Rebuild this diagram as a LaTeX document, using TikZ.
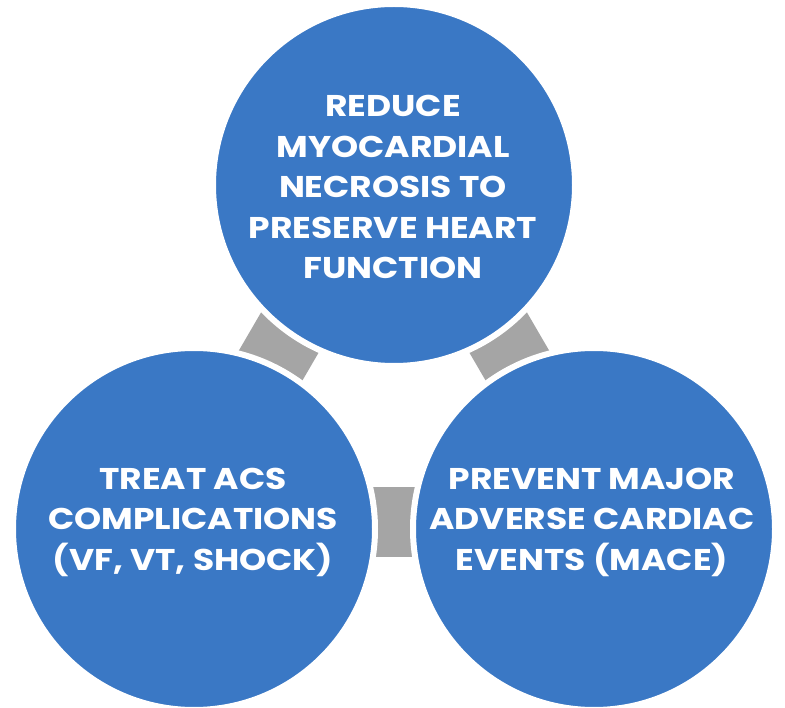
\documentclass[tikz,border=0pt]{standalone}
\usepackage{fontspec}
\setmainfont{Poppins}[FakeStretch=1.15]
\usetikzlibrary{backgrounds}
\definecolor{cblue}{HTML}{3A78C5}
\definecolor{cgray}{HTML}{A5A5A5}
\tikzset{
  blob/.style={circle, fill=cblue, draw=white, line width=6pt, minimum size=362pt, inner sep=0pt},
  link/.style={rectangle, fill=cgray, minimum width=80pt, minimum height=70pt, inner sep=0pt},
  lbl/.style={text=white, align=center, font=\fontsize{30}{40.5}\selectfont\bfseries}
}
\begin{document}
\begin{tikzpicture}[x=1pt,y=-1pt]
\useasboundingbox (0,0) rectangle (785,708);
\node[blob] (top) at (394,185) {};
\node[blob] (left) at (194,529) {};
\node[blob] (right) at (594,529) {};
\begin{scope}[on background layer]
\node[link, rotate=59.8] (lt) at (282,346) {};
\node[link, rotate=-59.8] (rt) at (506,346) {};
\node[link] (lr) at (395,522) {};
\end{scope}
\node[lbl] (ttop) at (393,187) {REDUCE\\MYOCARDIAL\\NECROSIS TO\\PRESERVE HEART\\FUNCTION};
\node[lbl] (tleft) at (193,522) {TREAT ACS\\COMPLICATIONS\\(VF, VT, SHOCK)};
\node[lbl] (tright) at (592,522) {PREVENT MAJOR\\ADVERSE CARDIAC\\EVENTS (MACE)};
\end{tikzpicture}
\end{document}
